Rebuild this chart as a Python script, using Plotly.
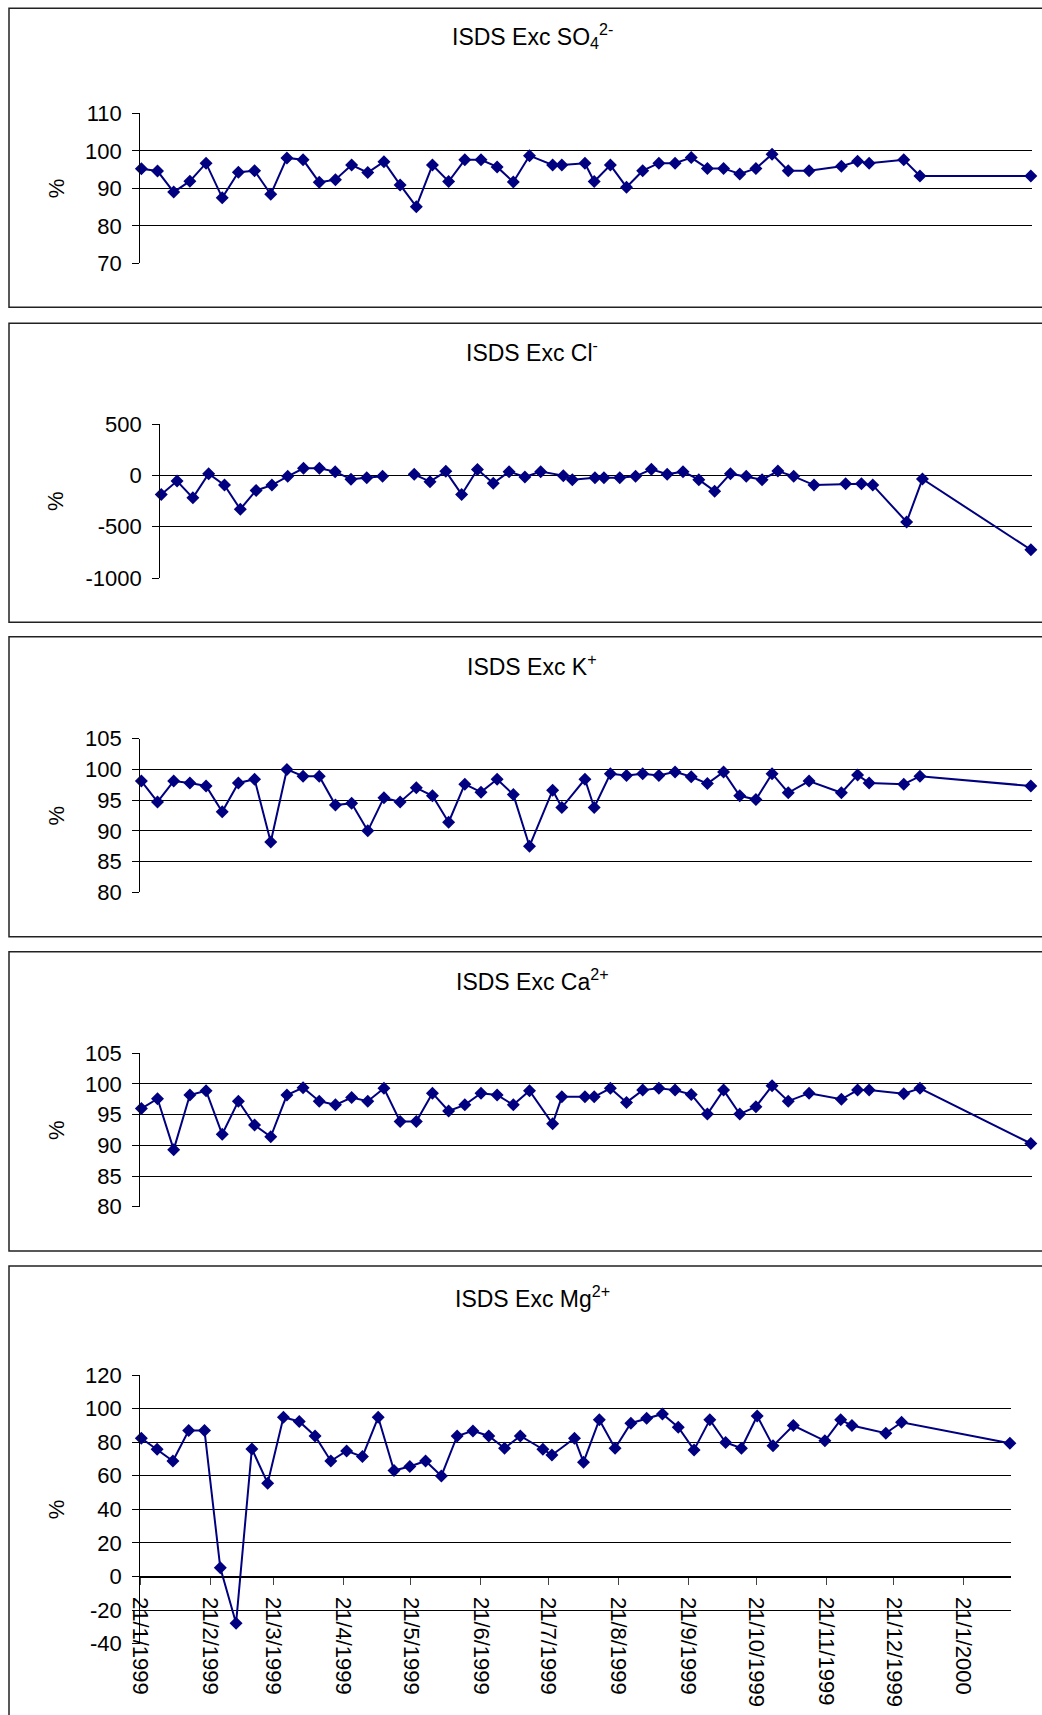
import pandas as pd
import plotly.graph_objects as go

# ---- sampling dates (weekly ISDS samples) ----
sample_dates = [
    "1999-01-21", "1999-01-28", "1999-02-04", "1999-02-11", "1999-02-18", "1999-02-25",
    "1999-03-04", "1999-03-11", "1999-03-18", "1999-03-25", "1999-04-01", "1999-04-08",
    "1999-04-15", "1999-04-22", "1999-04-29", "1999-05-06", "1999-05-13", "1999-05-20",
    "1999-05-27", "1999-06-03", "1999-06-10", "1999-06-17", "1999-06-24", "1999-07-01",
    "1999-07-08", "1999-07-18", "1999-07-22", "1999-08-01", "1999-08-05", "1999-08-12",
    "1999-08-19", "1999-08-26", "1999-09-02", "1999-09-09", "1999-09-16", "1999-09-23",
    "1999-09-30", "1999-10-07", "1999-10-14", "1999-10-21", "1999-10-28", "1999-11-06",
    "1999-11-20", "1999-11-27", "1999-12-02", "1999-12-17", "1999-12-24", "2000-02-10",
]

# ---- excess percentages per ion ----
so4_exc = [95.2, 94.6, 89.0, 91.9, 96.7, 87.5, 94.3, 94.7, 88.4, 98.1, 97.6, 91.6,
           92.3, 96.2, 94.2, 97.1, 90.9, 85.1, 96.2, 91.8, 97.6, 97.6, 95.7, 91.7,
           98.7, 96.2, 96.2, 96.7, 91.8, 96.2, 90.3, 94.7, 96.7, 96.7, 98.2, 95.3,
           95.3, 93.8, 95.3, 99.1, 94.7, 94.7, 95.9, 97.2, 96.7, 97.6, 93.3, 93.3]
cl_exc = [-186, -56, -219, 16, -95, -330, -147, -95, -10, 69, 69, 36,
          -39, -23, -10, None, 10, -62, 39, -186, 56, -78, 36, -16,
          36, -3, -42, -23, -23, -23, -10, 59, 10, 36, -42, -154,
          16, -10, -42, 42, -10, -95, -82, -82, -95, -454, -36, -725]
k_exc = [98.1, 94.7, 98.1, 97.8, 97.3, 93.1, 97.8, 98.4, 88.2, 100.0, 98.9, 98.9,
         94.2, 94.5, 90.0, 95.4, 94.7, 97.0, 95.7, 91.4, 97.6, 96.3, 98.4, 95.9,
         87.5, 96.6, 93.8, 98.4, 93.8, 99.3, 99.0, 99.3, 99.0, 99.6, 98.8, 97.7,
         99.6, 95.7, 95.1, 99.3, 96.2, 98.1, 96.2, 99.1, 97.8, 97.6, 98.9, 97.3]
ca_exc = [96.0, 97.6, 89.3, 98.2, 98.9, 91.8, 97.2, 93.3, 91.4, 98.2, 99.4, 97.2,
          96.6, 97.8, 97.2, 99.3, 93.9, 93.9, 98.5, 95.6, 96.6, 98.5, 98.2, 96.6,
          98.9, 93.5, 97.9, 97.9, 97.9, 99.3, 97.0, 99.0, 99.3, 99.0, 98.3, 95.1,
          99.0, 95.1, 96.3, 99.7, 97.2, 98.5, 97.5, 99.0, 99.0, 98.4, 99.3, 90.3]
mg_exc = [82.3, 75.8, 68.8, 86.9, 86.9, 5.2, -27.8, 76.0, 55.6, 94.8, 92.3, 83.7,
          68.8, 74.8, 71.4, 94.8, 63.1, 65.5, 68.8, 59.9, 83.7, 86.7, 83.7, 76.4,
          83.7, 75.8, 72.4, 82.3, 68.1, 93.3, 76.4, 91.3, 94.2, 96.8, 88.9, 75.4,
          93.3, 79.8, 76.4, 95.6, 77.8, 89.9, 80.8, 93.3, 89.9, 85.3, 91.9, 79.4]

# ---- titles and y tick values ----
titles = [
    "ISDS Exc SO<sub>4</sub><sup>2-</sup>",
    "ISDS Exc Cl<sup>-</sup>",
    "ISDS Exc K<sup>+</sup>",
    "ISDS Exc Ca<sup>2+</sup>",
    "ISDS Exc Mg<sup>2+</sup>",
]
so4_ticks = [70, 80, 90, 100, 110]
cl_ticks = [-1000, -500, 0, 500]
k_ticks = [80, 85, 90, 95, 100, 105]
ca_ticks = [80, 85, 90, 95, 100, 105]
mg_ticks = [-40, -20, 0, 20, 40, 60, 80, 100, 120]
y_unit = "%"

# date axis limits and month ticks
x_start, x_end = "1999-01-21", "2000-02-11"
tick_start = "1999-01-21"

# ---- page geometry (pixels) ----
W, H = 1042, 1715
FONT = "Arial, Liberation Sans, sans-serif"
NAVY = "#000080"

panels = [
    dict(vals=so4_exc, ticks=so4_ticks, plot=(140.2, 1032, 113.3, 263.3), box=(8.3, 307.3), ty=36),
    dict(vals=cl_exc, ticks=cl_ticks, plot=(160.1, 1032, 424.0, 578.0), box=(323.3, 622.3), ty=351),
    dict(vals=k_exc, ticks=k_ticks, plot=(140.2, 1032, 738.7, 892.3), box=(636.7, 936.7), ty=665),
    dict(vals=ca_exc, ticks=ca_ticks, plot=(140.2, 1032, 1053.3, 1206.7), box=(951.7, 1251.0), ty=980),
    dict(vals=mg_exc, ticks=mg_ticks, plot=(140.2, 1011, 1375.0, 1643.7), box=(1266.0, 1800.0), ty=1297),
]

# each sample sits in the middle of its day slot on the date axis
x_vals = pd.to_datetime(sample_dates) + pd.Timedelta(hours=12)

fig = go.Figure()
layout_axes = {}
annotations = []
shapes = []

for i, p in enumerate(panels, start=1):
    xa = "x" if i == 1 else f"x{i}"
    ya = "y" if i == 1 else f"y{i}"
    xkey = "xaxis" if i == 1 else f"xaxis{i}"
    ykey = "yaxis" if i == 1 else f"yaxis{i}"
    x0, x1, y0, y1 = p["plot"]
    lo, hi = min(p["ticks"]), max(p["ticks"])
    ydom = [1 - y1 / H, 1 - y0 / H]

    fig.add_trace(go.Scatter(
        x=x_vals, y=p["vals"], xaxis=xa, yaxis=ya,
        mode="lines+markers", connectgaps=False, cliponaxis=False,
        line=dict(color=NAVY, width=2),
        marker=dict(symbol="diamond", size=10, color=NAVY, line=dict(width=0)),
        hoverinfo="skip", showlegend=False,
    ))

    layout_axes[ykey] = dict(
        domain=ydom, range=[lo, hi], anchor=xa,
        tickvals=p["ticks"], ticktext=[str(t) for t in p["ticks"]],
        showgrid=True, gridcolor="black", gridwidth=1,
        zeroline=False, showline=True, linecolor="black", linewidth=1,
        ticks="outside", ticklen=7, tickcolor="black", tickwidth=1,
        tickfont=dict(family=FONT, size=22, color="black"),
        ticklabelstandoff=6, automargin=False,
    )

    if i < len(panels):
        layout_axes[xkey] = dict(
            domain=[x0 / W, x1 / W], range=[x_start, x_end], type="date",
            anchor=ya, visible=False, automargin=False,
        )
    else:
        # category axis crosses the value axis at 0
        zero_pos = ydom[0] + (0 - lo) / (hi - lo) * (ydom[1] - ydom[0])
        layout_axes[xkey] = dict(
            domain=[x0 / W, x1 / W], range=[x_start, x_end], type="date",
            anchor="free", position=zero_pos, side="bottom",
            showgrid=False, zeroline=False,
            showline=True, linecolor="black", linewidth=1,
            ticks="outside", ticklen=7, tickcolor="#444", tickwidth=1,
            tick0=tick_start, dtick="M1", tickformat="%-d/%-m/%Y",
            tickangle=90, ticklabelstandoff=8,
            tickfont=dict(family=FONT, size=22, color="black"),
            automargin=False,
        )

    # panel title
    annotations.append(dict(
        text=titles[i - 1], xref="paper", yref="paper",
        x=532 / W, y=1 - p["ty"] / H, xanchor="center", yanchor="middle",
        showarrow=False, font=dict(family=FONT, size=23, color="black"),
    ))
    # value axis title
    annotations.append(dict(
        text=y_unit, xref="paper", yref="paper",
        x=56 / W, y=(ydom[0] + ydom[1]) / 2, xanchor="center", yanchor="middle",
        textangle=-90, showarrow=False, font=dict(family=FONT, size=22, color="black"),
    ))
    # chart frame
    b0, b1 = p["box"]
    shapes.append(dict(
        type="rect", xref="paper", yref="paper",
        x0=9 / W, x1=1.05, y0=1 - b1 / H, y1=1 - b0 / H,
        line=dict(color="#222222", width=1.5), fillcolor="rgba(0,0,0,0)",
    ))

fig.update_layout(
    width=W, height=H,
    margin=dict(l=0, r=0, t=0, b=0, pad=0, autoexpand=False),
    paper_bgcolor="white", plot_bgcolor="white",
    showlegend=False,
    annotations=annotations, shapes=shapes,
    **layout_axes,
)

fig.write_html("out.html")
